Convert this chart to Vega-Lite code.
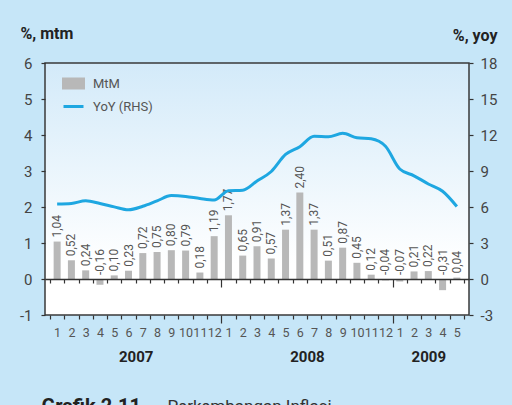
{
  "$schema": "https://vega.github.io/schema/vega-lite/v6.json",
  "autosize": "none",
  "width": 424,
  "height": 252,
  "padding": {"left": 45, "top": 63, "right": 43, "bottom": 90},
  "background": "#c6e6f8",
  "config": {
    "locale": {"number": {"decimal": ",", "thousands": ".", "grouping": [3], "currency": ["", ""], "minus": "-"}},
    "font": "Roboto",
    "view": {
      "stroke": "#3a3a3a",
      "strokeWidth": 1.5,
      "fill": {"gradient": "linear", "x1": 0, "y1": 0, "x2": 0, "y2": 1, "stops": [{"offset": 0, "color": "#d3eaf9"}, {"offset": 0.8, "color": "#ffffff"}, {"offset": 1, "color": "#ffffff"}]}
    },
    "axis": {"labelFont": "Roboto", "titleFont": "Roboto", "labelColor": "#444", "tickColor": "#333", "domainColor": "#333", "grid": false, "tickWidth": 1.2}
  },
  "data": {
    "values": [
      {"i": 1, "period": "2007-01", "mtm": 1.04, "yoy": 6.26},
      {"i": 2, "period": "2007-02", "mtm": 0.52, "yoy": 6.30},
      {"i": 3, "period": "2007-03", "mtm": 0.24, "yoy": 6.52},
      {"i": 4, "period": "2007-04", "mtm": -0.16, "yoy": 6.29},
      {"i": 5, "period": "2007-05", "mtm": 0.10, "yoy": 6.01},
      {"i": 6, "period": "2007-06", "mtm": 0.23, "yoy": 5.77},
      {"i": 7, "period": "2007-07", "mtm": 0.72, "yoy": 6.06},
      {"i": 8, "period": "2007-08", "mtm": 0.75, "yoy": 6.51},
      {"i": 9, "period": "2007-09", "mtm": 0.80, "yoy": 6.95},
      {"i": 10, "period": "2007-10", "mtm": 0.79, "yoy": 6.88},
      {"i": 11, "period": "2007-11", "mtm": 0.18, "yoy": 6.71},
      {"i": 12, "period": "2007-12", "mtm": 1.19, "yoy": 6.59},
      {"i": 13, "period": "2008-01", "mtm": 1.77, "yoy": 7.36},
      {"i": 14, "period": "2008-02", "mtm": 0.65, "yoy": 7.40},
      {"i": 15, "period": "2008-03", "mtm": 0.91, "yoy": 8.17},
      {"i": 16, "period": "2008-04", "mtm": 0.57, "yoy": 8.96},
      {"i": 17, "period": "2008-05", "mtm": 1.37, "yoy": 10.38},
      {"i": 18, "period": "2008-06", "mtm": 2.40, "yoy": 11.03},
      {"i": 19, "period": "2008-07", "mtm": 1.37, "yoy": 11.90},
      {"i": 20, "period": "2008-08", "mtm": 0.51, "yoy": 11.85},
      {"i": 21, "period": "2008-09", "mtm": 0.87, "yoy": 12.14},
      {"i": 22, "period": "2008-10", "mtm": 0.45, "yoy": 11.77},
      {"i": 23, "period": "2008-11", "mtm": 0.12, "yoy": 11.68},
      {"i": 24, "period": "2008-12", "mtm": -0.04, "yoy": 11.06},
      {"i": 25, "period": "2009-01", "mtm": -0.07, "yoy": 9.17},
      {"i": 26, "period": "2009-02", "mtm": 0.21, "yoy": 8.60},
      {"i": 27, "period": "2009-03", "mtm": 0.22, "yoy": 7.92},
      {"i": 28, "period": "2009-04", "mtm": -0.31, "yoy": 7.31},
      {"i": 29, "period": "2009-05", "mtm": 0.04, "yoy": 6.04}
    ]
  },
  "layer": [
    {
      "mark": {"type": "bar", "size": 7},
      "encoding": {
        "x": {
          "field": "i", "type": "quantitative",
          "scale": {"domain": [0.5, 29.5], "nice": false, "zero": false},
          "axis": {
            "orient": "bottom",
            "values": [1,2,3,4,5,6,7,8,9,10,11,12,13,14,15,16,17,18,19,20,21,22,23,24,25,26,27,28,29],
            "labelExpr": "(datum.value - 1) % 12 + 1",
            "ticks": false, "tickSize": 0, "domain": false,
            "labelPadding": 11, "labelFontSize": 12.5, "labelColor": "#555",
            "labelOverlap": false, "labelFlush": false, "labelBound": false,
            "title": null
          }
        },
        "y": {
          "field": "mtm", "type": "quantitative",
          "scale": {"domain": [-1, 6], "nice": false, "zero": false},
          "axis": {
            "orient": "left",
            "values": [-1, 0, 1, 2, 3, 4, 5, 6],
            "domain": false, "tickSize": 4, "labelPadding": 9,
            "labelFontSize": 15, "labelColor": "#444",
            "title": "%, mtm", "titleAngle": 0, "titleX": -25, "titleY": -30,
            "titleAlign": "left", "titleBaseline": "middle",
            "titleFontSize": 16, "titleFontWeight": "bold", "titleColor": "#222"
          }
        },
        "color": {
          "datum": "MtM",
          "scale": {"domain": ["MtM", "YoY (RHS)"], "range": ["#b8b8b8", "#1ea7e1"]},
          "legend": {
            "orient": "none", "legendX": 17, "legendY": 9, "title": null,
            "labelFontSize": 13, "labelColor": "#555", "labelFont": "Roboto",
            "symbolSize": 400, "rowPadding": 1, "labelOffset": 8, "padding": 0,
            "encode": {
              "symbols": {
                "update": {
                  "shape": {"signal": "datum.value === 'MtM' ? 'M-1,-0.45H1V0.45H-1Z' : 'M-1,0H1'"},
                  "fill": {"signal": "datum.value === 'MtM' ? '#b8b8b8' : 'transparent'"},
                  "stroke": {"signal": "datum.value === 'MtM' ? 'transparent' : '#1ea7e1'"},
                  "strokeWidth": {"value": 3},
                  "opacity": {"value": 1}
                }
              }
            }
          }
        }
      }
    },
    {
      "transform": [{"filter": "datum.mtm >= 0"}],
      "mark": {"type": "text", "angle": 270, "align": "left", "baseline": "middle", "dx": 4, "fontSize": 12, "color": "#555", "font": "Roboto"},
      "encoding": {
        "x": {
          "field": "i", "type": "quantitative",
          "scale": {"domain": [0.5, 29.5], "nice": false, "zero": false},
          "axis": {
            "orient": "bottom",
            "values": [0.5,1.5,2.5,3.5,4.5,5.5,6.5,7.5,8.5,9.5,10.5,11.5,12.5,13.5,14.5,15.5,16.5,17.5,18.5,19.5,20.5,21.5,22.5,23.5,24.5,25.5,26.5,27.5,28.5,29.5],
            "labels": false, "domain": false,
            "tickSize": {"condition": {"test": "datum.value === 12.5 || datum.value === 24.5", "value": 8}, "value": 4},
            "title": "Grafik 2.11.", "titleX": -4, "titleY": 97, "titleAlign": "left", "titleBaseline": "alphabetic",
            "titleFontSize": 20, "titleFontWeight": "bold", "titleColor": "#222"
          }
        },
        "y": {"field": "mtm", "type": "quantitative", "scale": {"domain": [-1, 6], "nice": false, "zero": false}, "axis": null},
        "text": {"field": "mtm", "type": "quantitative", "format": ".2f"}
      }
    },
    {
      "transform": [{"filter": "datum.mtm < 0"}],
      "mark": {"type": "text", "angle": 270, "align": "left", "baseline": "middle", "dx": 4, "fontSize": 12, "color": "#555", "font": "Roboto"},
      "encoding": {
        "x": {
          "field": "i", "type": "quantitative",
          "scale": {"domain": [0.5, 29.5], "nice": false, "zero": false},
          "axis": {
            "orient": "bottom",
            "values": [6.5, 18.5, 27],
            "labelExpr": "datum.value < 12.5 ? '2007' : datum.value < 24.5 ? '2008' : '2009'",
            "ticks": false, "tickSize": 0, "domain": false,
            "labelPadding": 34, "labelFontSize": 15, "labelFontWeight": "bold", "labelColor": "#222",
            "labelOverlap": false, "labelFlush": false, "labelBound": false,
            "title": "Perkembangan Inflasi", "titleX": 122, "titleY": 96, "titleAlign": "left", "titleBaseline": "alphabetic",
            "titleFontSize": 17, "titleFontWeight": "normal", "titleColor": "#333"
          }
        },
        "y": {"datum": 0, "type": "quantitative", "scale": {"domain": [-1, 6], "nice": false, "zero": false}, "axis": null},
        "text": {"field": "mtm", "type": "quantitative", "format": ".2f"}
      }
    },
    {
      "mark": {"type": "line", "interpolate": "monotone", "strokeWidth": 3},
      "encoding": {
        "x": {
          "field": "i", "type": "quantitative",
          "scale": {"domain": [0.5, 29.5], "nice": false, "zero": false},
          "axis": {
            "orient": "bottom",
            "values": [0.5,1.5,2.5,3.5,4.5,5.5,6.5,7.5,8.5,9.5,10.5,11.5,12.5,13.5,14.5,15.5,16.5,17.5,18.5,19.5,20.5,21.5,22.5,23.5,24.5,25.5,26.5,27.5,28.5,29.5],
            "labels": false, "domain": true, "domainWidth": 1.5, "domainColor": "#333",
            "offset": -36, "zindex": 1,
            "tickSize": {"condition": {"test": "datum.value === 12.5 || datum.value === 24.5", "value": 8}, "value": 4},
            "title": null
          }
        },
        "y": {
          "field": "yoy", "type": "quantitative",
          "scale": {"domain": [-3, 18], "nice": false, "zero": false},
          "axis": {
            "orient": "right",
            "values": [-3, 0, 3, 6, 9, 12, 15, 18],
            "domain": false, "tickSize": 4, "labelPadding": 7,
            "labelFontSize": 15, "labelColor": "#444",
            "title": "%, yoy", "titleAngle": 0, "titleX": 28, "titleY": -28,
            "titleAlign": "right", "titleBaseline": "middle",
            "titleFontSize": 16, "titleFontWeight": "bold", "titleColor": "#222"
          }
        },
        "color": {"datum": "YoY (RHS)"}
      }
    }
  ],
  "resolve": {"scale": {"y": "independent"}, "axis": {"x": "independent", "y": "independent"}}
}
